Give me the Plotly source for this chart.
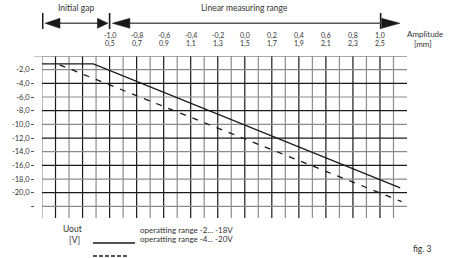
import numpy as np
import plotly.graph_objects as go

# ---------------- data ----------------
amp_upper = ["-1,0", "-0,8", "-0,6", "-0,4", "-0,2", "0,0", "0,2", "0,4", "0,6", "0,8", "1,0"]
amp_lower = [0.5, 0.7, 0.9, 1.1, 1.3, 1.5, 1.7, 1.9, 2.1, 2.3, 2.5]
amp_lower_txt = ["0,5", "0,7", "0,9", "1,1", "1,3", "1,5", "1,7", "1,9", "2,1", "2,3", "2,5"]
y_ticks = [-2, -4, -6, -8, -10, -12, -14, -16, -18, -20, -22]
y_labels = ["-2,0", "-4,0", "-6,0", "-8,0", "-10,0", "-12,0", "-14,0", "-16,0", "-18,0", "-20,0", ""]

# solid: operating range -2 ... -18 V
solid_x = [0.0, 0.38, 2.65]
solid_y = [-1.15, -1.15, -19.3]
# dashed: operating range -4 ... -20 V
dashed_x = [0.13, 2.66]
dashed_y = [-1.3, -21.3]

X_MAX = 2.7
Y_MIN = -23.7

FONT = "Lato"
TXT = "#333333"
BLACK = "#1a1a1a"
GRAY = "#8c8c8c"

fig = go.Figure()

fig.add_trace(go.Scatter(x=solid_x, y=solid_y, mode="lines",
                         line=dict(color=BLACK, width=1.3), showlegend=False, hoverinfo="skip"))
fig.add_trace(go.Scatter(x=dashed_x, y=dashed_y, mode="lines",
                         line=dict(color=BLACK, width=1.3, dash="6px,7px"), showlegend=False, hoverinfo="skip"))

shapes = []
# vertical grid lines
for i, a in enumerate(np.round(np.arange(0, 2.61, 0.1), 2)):
    col = BLACK if i % 2 == 1 else GRAY
    shapes.append(dict(type="line", xref="x", yref="y", x0=a, x1=a, y0=0, y1=Y_MIN,
                       line=dict(color=col, width=1.2), layer="below"))
# horizontal grid lines
for v in range(0, -23, -2):
    col = BLACK if (v % 4 == 0 and v != 0) else GRAY
    shapes.append(dict(type="line", xref="x", yref="y", x0=0, x1=X_MAX, y0=v, y1=v,
                       line=dict(color=col, width=1.2), layer="below"))
# top line extends to the axis
shapes.append(dict(type="line", xref="paper", yref="y", x0=0, x1=1, y0=0, y1=0,
                   line=dict(color=GRAY, width=1.2), layer="below"))

# ---- dimension arrows on top ----
ya = 1.2019
hh = 0.0309
bar_y0, bar_y1 = 1.1667, 1.2654
for bx in [0.005, 0.5, 2.505]:
    shapes.append(dict(type="line", xref="x", yref="paper", x0=bx, x1=bx, y0=bar_y0, y1=bar_y1,
                       line=dict(color=BLACK, width=1.6)))
shapes.append(dict(type="line", xref="x", yref="paper", x0=0.12, x1=0.42, y0=ya, y1=ya,
                   line=dict(color="#555555", width=1.5)))
shapes.append(dict(type="line", xref="x", yref="paper", x0=0.6, x1=2.52, y0=ya, y1=ya,
                   line=dict(color="#555555", width=1.5)))

def tri(tip, base):
    return dict(type="path", xref="x", yref="paper",
                path=f"M {tip},{ya} L {base},{ya + hh} L {base},{ya - hh} Z",
                fillcolor=BLACK, line=dict(color=BLACK, width=0.5))

shapes.append(tri(0.022, 0.133))
shapes.append(tri(0.488, 0.41))
shapes.append(tri(0.52, 0.65))
shapes.append(tri(2.648, 2.513))

# ---- legend samples at bottom ----
shapes.append(dict(type="line", xref="x", yref="paper", x0=0.377, x1=0.688, y0=-0.1543, y1=-0.1543,
                   line=dict(color=BLACK, width=1.3)))
shapes.append(dict(type="line", xref="x", yref="paper", x0=0.377, x1=0.64, y0=-0.234, y1=-0.234,
                   line=dict(color=BLACK, width=1.5, dash="4px,2px")))

ann = []
for up, lo, lt in zip(amp_upper, amp_lower, amp_lower_txt):
    ann.append(dict(x=lo, y=1.1296, xref="x", yref="paper", text=up, showarrow=False, borderpad=0,
                    font=dict(size=7, color=TXT, family=FONT), xanchor="center", yanchor="middle"))
    ann.append(dict(x=lo, y=1.0772, xref="x", yref="paper", text=lt, showarrow=False, borderpad=0,
                    font=dict(size=7, color=TXT, family=FONT), xanchor="center", yanchor="middle"))

def txt(x, y, s, size=8, xanchor="center", xref="x"):
    ann.append(dict(x=x, y=y, xref=xref, yref="paper", text=s, showarrow=False, borderpad=0,
                    font=dict(size=size, color=TXT, family=FONT), xanchor=xanchor, yanchor="middle"))

txt(0.251, 1.296, "Initial gap", size=8.5)
txt(1.5, 1.296, "Linear measuring range", size=8.5)
txt(1.0483, 1.1358, "Amplitude", size=8)
txt_mm = txt(1.0429, 1.0741, "[mm]", size=8, xref="paper")
ann[-2]["xref"] = "paper"
txt(0.229, -0.0698, "Uout", size=8.5)
txt(0.244, -0.1358, "[V]", size=8.5)
txt(0.717, -0.0741, "operatting range -2... -18V", size=8, xanchor="left")
txt(0.717, -0.1296, "operatting range -4... -20V", size=8, xanchor="left")
txt(1.0394, -0.193, "fig. 3", size=8.5, xref="paper")

fig.update_layout(
    width=451, height=258,
    margin=dict(l=34, r=44, t=56, b=40),
    paper_bgcolor="white", plot_bgcolor="white",
    showlegend=False,
    shapes=shapes,
    annotations=ann,
    xaxis=dict(domain=[8 / 373, 1], range=[0, X_MAX], showgrid=False, zeroline=False,
               showticklabels=False, ticks="", showline=False),
    yaxis=dict(anchor="free", position=0, range=[Y_MIN, 0], showgrid=False, zeroline=False,
               showline=False, tickmode="array", tickvals=y_ticks, ticktext=y_labels,
               ticks="outside", ticklen=3, tickcolor="#555555", tickwidth=1,
               tickfont=dict(size=7.5, color=TXT, family=FONT)),
)

fig.write_html("out.html", config={"displayModeBar": False},
               post_script="document.body.style.margin='0px';")
